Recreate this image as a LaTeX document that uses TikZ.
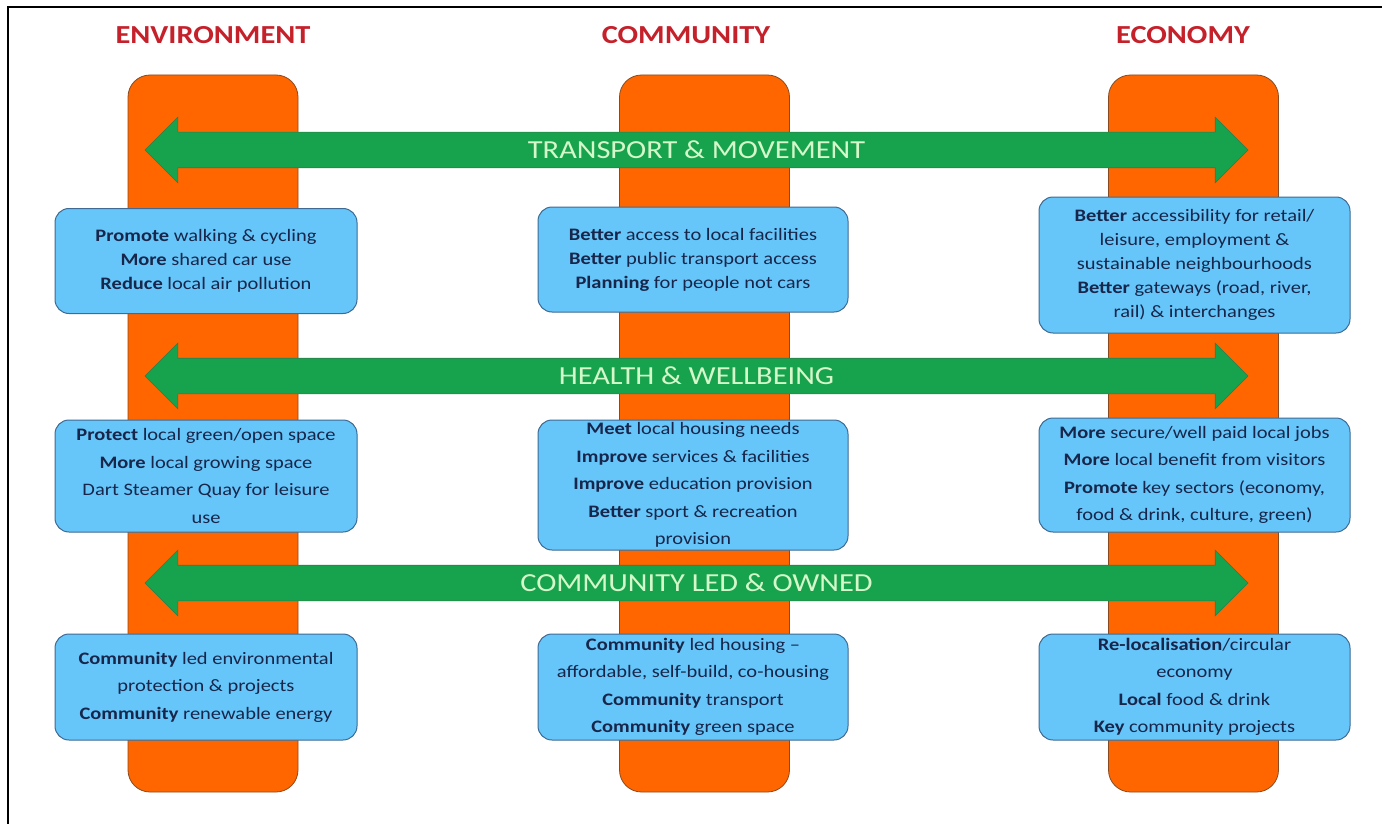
\documentclass[tikz,border=0pt]{standalone}
\usepackage{fontspec}
\setmainfont{Carlito}[FakeStretch = 1.17]
\usetikzlibrary{shapes.arrows}

\definecolor{pillarorange}{HTML}{FF6600}
\definecolor{pillaredge}{HTML}{8A4A20}
\definecolor{bargreen}{HTML}{17A34D}
\definecolor{baredge}{HTML}{2E7D4A}
\definecolor{bartext}{HTML}{D4F8CA}
\definecolor{boxblue}{HTML}{66C6FA}
\definecolor{boxedge}{HTML}{3E6A93}
\definecolor{boxtext}{HTML}{17264A}
\definecolor{headred}{HTML}{C4212B}

\tikzset{
  pillar/.style = {draw = pillaredge, line width = 0.8pt, fill = pillarorange,
    rounded corners = 22pt, minimum width = 170pt, minimum height = 717pt},
  bar/.style = {double arrow, draw = baredge, line width = 0.6pt, fill = bargreen,
    minimum height = 1103pt, double arrow head extend = 15pt,
    inner xsep = 0pt, inner ysep = 0pt, text height = 26pt, text depth = 9pt,
    text = bartext, font = \fontsize{26}{26}\selectfont},
  infobox/.style = {draw = boxedge, line width = 1pt, fill = boxblue,
    rounded corners = 14pt, align = center, inner sep = 0pt, text = boxtext,
    font = \fontsize{17.5}{24}\selectfont},
  widerows/.style = {font = \fontsize{17.5}{27.5}\selectfont},
  heading/.style = {text = headred, font = \fontsize{26}{26}\selectfont\bfseries}
}

\begin{document}
\begin{tikzpicture}[x = 1pt, y = -1pt]
\useasboundingbox (0, 0) rectangle (1382, 824);
\draw [line width = 2pt] (8, 824) -- (8, 7) -- (1382, 7);

% column headings
\node [heading] (head0) at (213, 35) {ENVIRONMENT};
\node [heading] (head1) at (686, 35) {COMMUNITY};
\node [heading] (head2) at (1183, 35) {ECONOMY};

% pillars
\node [pillar] (pil0) at (213, 433.5) {};
\node [pillar] (pil1) at (704.5, 433.5) {};
\node [pillar] (pil2) at (1193.5, 433.5) {};

% themes across the pillars
\node [bar] (arr0) at (696.5, 150) {TRANSPORT \& MOVEMENT};
\node [bar] (arr1) at (696.5, 376) {HEALTH \& WELLBEING};
\node [bar] (arr2) at (696.5, 583) {COMMUNITY LED \& OWNED};

% transport & movement
\node [infobox, minimum width = 302pt, minimum height = 105pt] (box00) at (206, 261)
  {\textbf{Promote} walking \& cycling\\ \textbf{More} shared car use\\ \textbf{Reduce} local air pollution};
\node [infobox, minimum width = 310pt, minimum height = 105pt] (box01) at (693, 259.5)
  {\textbf{Better} access to local facilities\\ \textbf{Better} public transport access\\ \textbf{Planning} for people not cars};
\node [infobox, minimum width = 311pt, minimum height = 136pt] (box02) at (1194.5, 265)
  {\textbf{Better} accessibility for retail/\\ leisure, employment \&\\ sustainable neighbourhoods\\ \textbf{Better} gateways (road, river,\\ rail) \& interchanges};

% health & wellbeing
\node [infobox, widerows, minimum width = 302pt, minimum height = 112pt] (box10) at (206, 476)
  {\textbf{Protect} local green/open space\\ \textbf{More} local growing space\\ Dart Steamer Quay for leisure\\ use};
\node [infobox, widerows, minimum width = 310pt, minimum height = 130pt] (box11) at (693, 485)
  {\textbf{Meet} local housing needs\\ \textbf{Improve} services \& facilities\\ \textbf{Improve} education provision\\ \textbf{Better} sport \& recreation\\ provision};
\node [infobox, widerows, minimum width = 311pt, minimum height = 114pt] (box12) at (1194.5, 475)
  {\textbf{More} secure/well paid local jobs\\ \textbf{More} local benefit from visitors\\ \textbf{Promote} key sectors (economy,\\ food \& drink, culture, green)};

% community led & owned
\node [infobox, widerows, minimum width = 302pt, minimum height = 106pt] (box20) at (206, 687)
  {\textbf{Community} led environmental\\ protection \& projects\\ \textbf{Community} renewable energy};
\node [infobox, widerows, minimum width = 310pt, minimum height = 106pt] (box21) at (693, 687)
  {\textbf{Community} led housing --\\ affordable, self-build, co-housing\\ \textbf{Community} transport\\ \textbf{Community} green space};
\node [infobox, widerows, minimum width = 311pt, minimum height = 106pt] (box22) at (1194.5, 687)
  {\textbf{Re-localisation}/circular\\ economy\\ \textbf{Local} food \& drink\\ \textbf{Key} community projects};
\end{tikzpicture}
\end{document}
